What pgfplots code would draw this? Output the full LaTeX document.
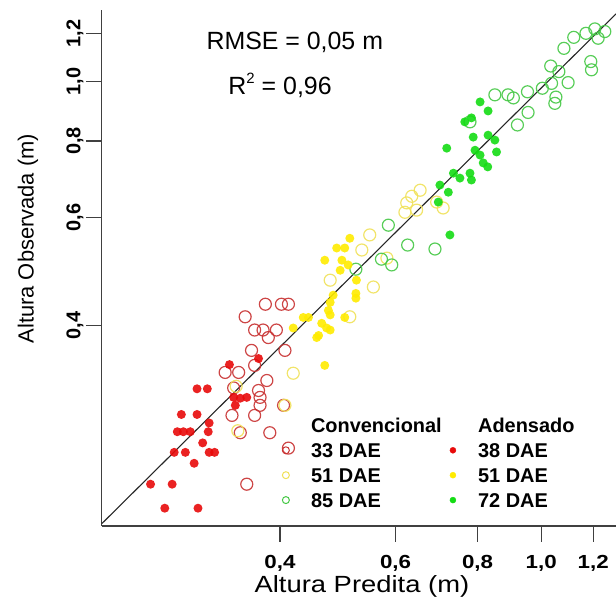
\documentclass[border=0pt]{standalone}
\usepackage{fontspec}
\setmainfont{Liberation Sans}
\usepackage{pgfplots}
\pgfplotsset{compat=1.18}
\definecolor{redF}{RGB}{232,10,10}
\definecolor{redO}{RGB}{200,50,50}
\definecolor{yelF}{RGB}{255,235,0}
\definecolor{yelO}{RGB}{240,225,90}
\definecolor{grnF}{RGB}{20,220,20}
\definecolor{grnO}{RGB}{70,200,70}
\newcommand{\xt}[1]{\scalebox{1.18}[1]{\textbf{#1}}}
\pgfplotsset{
  openmark/.style={only marks, mark=o, mark size=6bp, mark options={line width=1.2bp, draw opacity=0.9}},
  fillmark/.style={only marks, mark=*, mark size=4.5bp, mark options={draw opacity=0, fill opacity=0.9}},
  legmark/.style={legend image code/.code={\path (-4bp,0bp) (18bp,0bp); \path[##1, draw=none] plot coordinates {(0bp,0bp)};}},
}
\begin{document}
\begin{tikzpicture}
\begin{axis}[
  scale only axis, width=514.3bp, height=516bp,
  xmode=log, ymode=log,
  xmin=0.214, xmax=1.30, ymin=0.188, ymax=1.31,
  axis x line=bottom, axis y line=left,
  axis line style={-, line width=1.2bp, black!75},
  xtick={0.4,0.6,0.8,1.0,1.2}, ytick={0.4,0.6,0.8,1.0,1.2},
  xticklabels={\xt{0,4},\xt{0,6},\xt{0,8},\xt{1,0},\xt{1,2}},
  yticklabels={\textbf{0,4},\textbf{0,6},\textbf{0,8},\textbf{1,0},\textbf{1,2}},
  minor xtick={}, minor ytick={},
  tick align=outside, major tick length=16bp,
  tick style={line width=1.2bp, black!75},
  xticklabel style={font=\fontsize{19}{19}\selectfont, anchor=base, inner sep=0pt},
  yticklabel style={font=\fontsize{20}{20}\selectfont, rotate=90, anchor=south, inner sep=0pt},
  xticklabel shift=27bp, yticklabel shift=2bp,
  every axis x label/.style={at={(axis description cs:0.506,-0.128)}, anchor=base, inner sep=0pt, font=\fontsize{23.5}{23.5}\selectfont},
  every axis y label/.style={at={(axis description cs:-0.1433,0.557)}, rotate=90, anchor=center, font=\fontsize{22}{22}\selectfont},
  xlabel={\scalebox{1.17}[1]{Altura Predita (m)}}, ylabel={Altura Observada (m)},
  legend columns=2, legend cell align=left,
  legend style={at={(0.3496,0.2195)}, anchor=north west, draw=none, fill=none, inner sep=0pt, column sep=4bp,
    font=\fontsize{20}{20}\selectfont\bfseries,
    nodes={inner ysep=5.2bp, inner xsep=3bp, text height=14.5bp, text depth=0pt}},
]
% fitted line
\addplot[forget plot, black!85, line width=1.1bp] coordinates {(0.214,0.1896) (1.30,1.291)};
% Convencional 33 DAE (red open)
\addplot[forget plot, openmark, color=redO] table {
x y
0.354 0.413
0.380 0.433
0.402 0.433
0.412 0.433
0.366 0.393
0.377 0.393
0.395 0.393
0.384 0.382
0.362 0.364
0.407 0.364
0.366 0.344
0.382 0.325
0.330 0.335
0.346 0.335
0.340 0.316
0.371 0.313
0.373 0.305
0.373 0.296
0.338 0.285
0.366 0.285
0.348 0.267
0.386 0.267
0.412 0.252
0.356 0.220
0.405 0.296
};
% Convencional 51 DAE (yellow open)
\addplot[forget plot, openmark, color=yelO] table {
x y
0.654 0.665
0.635 0.650
0.624 0.634
0.646 0.617
0.620 0.612
0.693 0.636
0.709 0.622
0.548 0.562
0.533 0.531
0.477 0.474
0.555 0.462
0.511 0.413
0.419 0.334
0.582 0.515
0.345 0.269
0.407 0.296
0.343 0.318
};
% Convencional 85 DAE (green open)
\addplot[forget plot, openmark, color=grnO] table {
x y
0.850 0.952
0.890 0.952
0.907 0.941
0.953 0.963
1.004 0.976
1.037 0.994
1.034 1.061
1.064 1.039
1.099 0.997
1.053 0.944
1.049 0.922
0.955 0.891
0.920 0.850
1.083 1.134
1.121 1.182
1.170 1.200
1.207 1.220
1.221 1.178
1.250 1.208
1.190 1.079
1.193 1.046
0.779 0.860
0.585 0.583
0.626 0.541
0.689 0.533
0.571 0.513
0.592 0.502
0.522 0.494
};
% Adensado 38 DAE (red filled)
\addplot[forget plot, fillmark, color=redF] table {
x y
0.299 0.315
0.310 0.315
0.283 0.286
0.299 0.286
0.279 0.268
0.285 0.268
0.292 0.268
0.312 0.277
0.311 0.268
0.305 0.257
0.276 0.248
0.287 0.248
0.312 0.248
0.318 0.248
0.296 0.238
0.254 0.220
0.274 0.220
0.267 0.201
0.300 0.201
0.340 0.305
0.348 0.304
0.356 0.305
0.342 0.296
0.335 0.345
0.371 0.353
};
% Adensado 51 DAE (yellow filled)
\addplot[forget plot, fillmark, color=yelF] table {
x y
0.511 0.555
0.488 0.535
0.502 0.535
0.468 0.511
0.497 0.511
0.494 0.492
0.523 0.474
0.522 0.451
0.522 0.443
0.477 0.436
0.474 0.423
0.477 0.416
0.434 0.412
0.442 0.412
0.502 0.412
0.419 0.396
0.463 0.403
0.471 0.396
0.458 0.385
0.477 0.393
0.455 0.382
0.468 0.344
0.508 0.502
0.482 0.448
};
% Adensado 72 DAE (green filled)
\addplot[forget plot, fillmark, color=grnF] table {
x y
0.807 0.927
0.830 0.896
0.765 0.860
0.783 0.873
0.788 0.812
0.718 0.779
0.830 0.818
0.850 0.803
0.855 0.768
0.807 0.759
0.816 0.737
0.829 0.726
0.735 0.709
0.779 0.709
0.783 0.691
0.701 0.678
0.722 0.660
0.697 0.636
0.726 0.562
0.793 0.773
0.752 0.696
};
% legend
\addlegendimage{empty legend}\addlegendentry{Convencional}
\addlegendimage{empty legend}\addlegendentry{Adensado}
\addlegendimage{legmark, only marks, mark=o, mark size=3.5bp, color=redO, mark options={line width=1bp}}\addlegendentry{33 DAE}
\addlegendimage{legmark, only marks, mark=*, mark size=3bp, color=redF}\addlegendentry{38 DAE}
\addlegendimage{legmark, only marks, mark=o, mark size=3.5bp, color=yelO, mark options={line width=1bp}}\addlegendentry{51 DAE}
\addlegendimage{legmark, only marks, mark=*, mark size=3bp, color=yelF}\addlegendentry{51 DAE}
\addlegendimage{legmark, only marks, mark=o, mark size=3.5bp, color=grnO, mark options={line width=1bp}}\addlegendentry{85 DAE}
\addlegendimage{legmark, only marks, mark=*, mark size=3bp, color=grnF}\addlegendentry{72 DAE}
\node[anchor=base west, font=\fontsize{25}{25}\selectfont] at (rel axis cs:0.197,0.9244) {RMSE = 0,05 m};
\node[anchor=base west, font=\fontsize{25}{25}\selectfont] at (rel axis cs:0.2397,0.8353) {R\raisebox{0.45em}{\fontsize{15}{15}\selectfont 2} = 0,96};
\end{axis}
\pgfresetboundingbox
\path ([xshift=-101.7bp,yshift=-82bp]current axis.south west) rectangle ([yshift=10bp]current axis.north east);
\end{tikzpicture}
\end{document}
